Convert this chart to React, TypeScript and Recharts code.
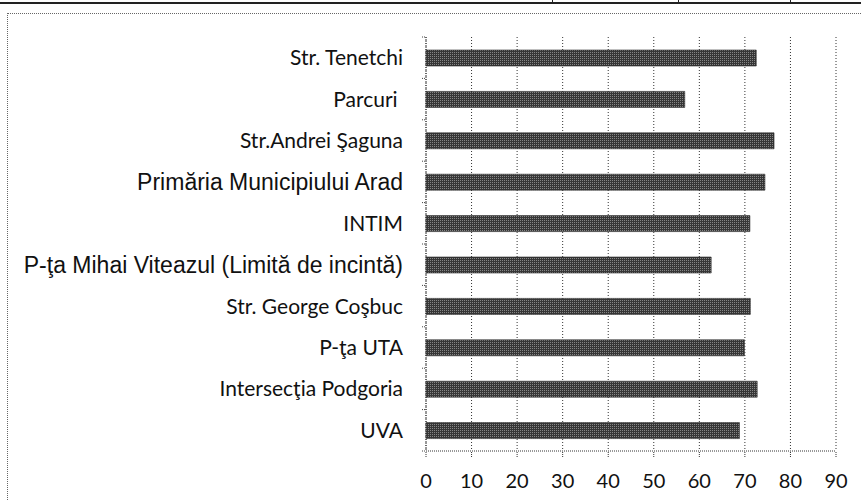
import { BarChart, Bar, XAxis, YAxis, CartesianGrid } from "recharts";

const locations = [
  "Str. Tenetchi",
  "Parcuri ",
  "Str.Andrei Şaguna",
  "Primăria Municipiului Arad",
  "INTIM",
  "P-ţa Mihai Viteazul (Limită de incintă)",
  "Str. George Coşbuc",
  "P-ţa UTA",
  "Intersecţia Podgoria",
  "UVA",
];

const levels = [72.5, 56.8, 76.4, 74.4, 71.1, 62.6, 71.2, 69.9, 72.7, 68.8];

// labels that were typed in Arial in the source document
const arialLabels = [
  "Primăria Municipiului Arad",
  "P-ţa Mihai Viteazul (Limită de incintă)",
];

const xTicks = [0, 10, 20, 30, 40, 50, 60, 70, 80, 90];

const rows = locations.map((name, i) => ({ name, value: levels[i] }));

const W = 861;
const H = 500;
const M = { top: 37, right: 25, bottom: 19, left: 0 };
const band = (H - M.top - M.bottom - 30) / locations.length;

const LocationTick = ({ x, y, payload, index }: any) => {
  const arial = arialLabels.includes(payload.value);
  const axisX = x + 23;
  return (
    <g>
      <line x1={axisX - 4} x2={axisX} y1={y - band / 2} y2={y - band / 2} stroke="#444" strokeDasharray="1 1" />
      {index === locations.length - 1 && (
        <line x1={axisX - 4} x2={axisX} y1={y + band / 2} y2={y + band / 2} stroke="#444" strokeDasharray="1 1" />
      )}
      <text
        x={x}
        y={y}
        dy="0.36em"
        textAnchor="end"
        fill="#111"
        style={{ whiteSpace: "pre" }}
        fontFamily={arial ? "'Liberation Sans', Arial, sans-serif" : "Lato, 'Open Sans', sans-serif"}
        fontSize={arial ? 23 : 21}
      >
        {payload.value}
      </text>
    </g>
  );
};

export default function App() {
  return (
    <div style={{ position: "absolute", left: 0, top: 0, width: W, height: H, background: "#fff", overflow: "hidden" }}>
      {/* scanned table edge above the figure */}
      <div style={{ position: "absolute", left: 0, top: 2, width: W, height: 2, background: "#222" }} />
      {[552, 678, 790].map((lx) => (
        <div key={lx} style={{ position: "absolute", left: lx, top: 0, width: 1, height: 3, background: "#222" }} />
      ))}
      {/* figure frame */}
      <div
        style={{
          position: "absolute",
          left: 7,
          top: 13,
          width: W,
          height: H,
          borderLeft: "1px dotted #666",
          borderTop: "1px dotted #666",
        }}
      />
      <div style={{ position: "absolute", left: 0, top: 0 }}>
        <BarChart layout="vertical" width={W} height={H} data={rows} margin={M}>
          <defs>
            <pattern id="scanFill" width="2" height="2" patternUnits="userSpaceOnUse">
              <rect width="2" height="2" fill="#363636" />
              <rect width="1" height="1" fill="#858585" />
            </pattern>
          </defs>
          <CartesianGrid horizontal={false} stroke="#333" strokeDasharray="1 2" />
          <XAxis
            type="number"
            domain={[0, 90]}
            ticks={xTicks}
            height={30}
            axisLine={{ stroke: "#333", strokeDasharray: "1 1" }}
            tickLine={{ stroke: "#333", strokeDasharray: "1 1" }}
            tickSize={6}
            tickMargin={17}
            tick={{ fill: "#111", fontFamily: "Lato, 'Open Sans', sans-serif", fontSize: 20 }}
          />
          <YAxis
            type="category"
            dataKey="name"
            width={426}
            axisLine={{ stroke: "#333", strokeDasharray: "1 1" }}
            tickLine={false}
            tickSize={0}
            tickMargin={23}
            interval={0}
            tick={<LocationTick />}
          />
          <Bar dataKey="value" barSize={16} fill="url(#scanFill)" stroke="#2a2a2a" strokeWidth={0.6} isAnimationActive={false} />
        </BarChart>
      </div>
    </div>
  );
}
